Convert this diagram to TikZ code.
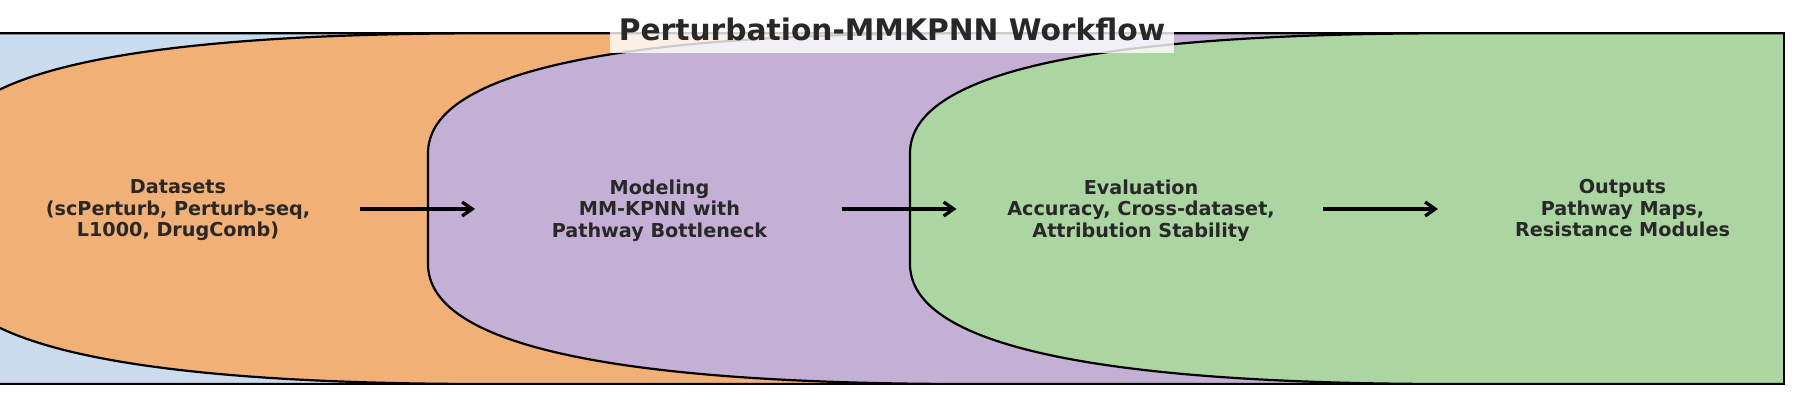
\documentclass[tikz,border=0pt]{standalone}
\usepackage{fontspec}
\setmainfont{DejaVu Sans}
\usetikzlibrary{arrows.meta}
\definecolor{stageblue}{RGB}{201,219,237}
\definecolor{stageorange}{RGB}{241,176,118}
\definecolor{stagepurple}{RGB}{197,176,213}
\definecolor{stagegreen}{RGB}{172,214,161}
\definecolor{textgray}{RGB}{40,40,40}

\begin{document}
\begin{tikzpicture}[x=1pt,y=-1pt]
	\tikzset{
		stage/.style={draw=black, line width=2.2pt},
		stage text/.style={font=\fontsize{19.2}{21.5}\selectfont\bfseries, text=textgray, align=center},
		flow/.style={-{Straight Barb[length=10pt,width=14pt]}, line width=3.3pt},
		frame line/.style={draw=black, line width=2.2pt},
		title box/.style={font=\fontsize{29.7}{34}\selectfont\bfseries, text=textgray, fill=white, fill opacity=0.8, text opacity=1, inner xsep=8.5pt, inner ysep=8.8pt, text height=22pt, text depth=4pt}
	}
	\useasboundingbox (0,0) rectangle (1796,406);

	% stage boxes, clipped to the frame
	\begin{scope}
		\clip (0,33.3) rectangle (1784,384);
		\foreach \L/\col in {-536/stageblue,-54/stageorange,428/stagepurple,910/stagegreen}
			\draw[stage, fill=\col] (\L,153.3) .. controls (\L,73.3) and (\L+180,33.3) .. (\L+540,33.3)
				-- (\L+2400,33.3) -- (\L+2400,384) -- (\L+540,384)
				.. controls (\L+180,384) and (\L,344) .. (\L,264) -- cycle;
	\end{scope}
	\draw[frame line] (0,33.3) -- (1784,33.3) -- (1784,384) -- (0,384);

	\path 	(178,211.5) node [name=datasets, stage text] {Datasets\\(scPerturb, Perturb-seq,\\L1000, DrugComb)\strut}
			(659.5,211.5) node [name=modeling, stage text] {Modeling\\MM-KPNN with\\Pathway Bottleneck\strut}
			(1141,211.5) node [name=evaluation, stage text] {Evaluation\\Accuracy, Cross-dataset,\\Attribution Stability\strut}
			(1622.5,211.5) node [name=outputs, stage text] {Outputs\\Pathway Maps,\\Resistance Modules\strut};

	\draw[flow, shorten <=182pt, shorten >=184.5pt] ([yshift=2.5pt]datasets.center) -- ([yshift=2.5pt]modeling.center);
	\draw[flow, shorten <=182pt, shorten >=184.5pt] ([yshift=2.5pt]modeling.center) -- ([yshift=2.5pt]evaluation.center);
	\draw[flow, shorten <=182pt, shorten >=184.5pt] ([yshift=2.5pt]evaluation.center) -- ([yshift=2.5pt]outputs.center);

	\path (892,40.7) node [name=title, anchor=base, title box] {Perturbation-MMKPNN Workflow};
\end{tikzpicture}
\end{document}
